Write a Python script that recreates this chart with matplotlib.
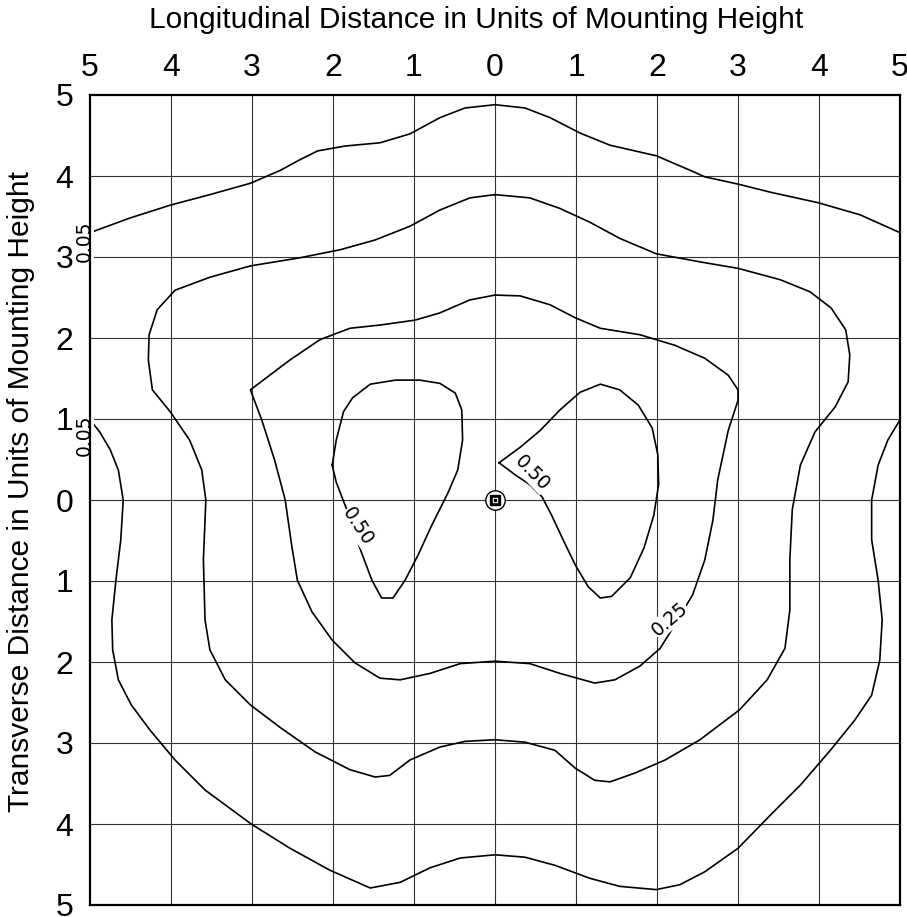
import matplotlib
matplotlib.use("Agg")
import matplotlib.pyplot as plt

plt.rcParams['font.family'] = ['Liberation Sans', 'DejaVu Sans']

# ---- data (units of mounting height) ----
tick_values = [-5, -4, -3, -2, -1, 0, 1, 2, 3, 4, 5]
tick_labels = [str(abs(v)) for v in tick_values]

# 0.05 iso-line, upper open branch
c005_top_x = [-5, -4.51, -4.01, -3.52, -3.02, -2.65, -2.41, -2.19, -1.85, -1.42, -1.05, -0.68, -0.37, 0,
              0.37, 0.68, 1.05, 1.42, 1.99, 2.41, 2.59, 3.00, 3.40, 3.99, 4.51, 5.0]
c005_top_y = [3.30, 3.48, 3.64, 3.77, 3.91, 4.07, 4.20, 4.31, 4.37, 4.41, 4.52, 4.72, 4.84, 4.88,
              4.84, 4.72, 4.53, 4.38, 4.25, 4.07, 3.99, 3.90, 3.80, 3.67, 3.52, 3.30]

# 0.05 iso-line, lower open branch
c005_bot_x = [-5, -4.88, -4.75, -4.65, -4.59, -4.62, -4.68, -4.73, -4.72, -4.65, -4.49, -4.26, -3.95, -3.58,
              -3.01, -2.53, -2.04, -1.54, -1.17, -0.80, -0.43, 0, 0.37, 0.74, 1.17, 1.54, 1.99, 2.28, 2.59,
              3.00, 3.40, 3.77, 4.14, 4.44, 4.65, 4.75, 4.78, 4.73, 4.65, 4.65, 4.73, 4.85, 5.0]
c005_bot_y = [0.99, 0.84, 0.62, 0.37, 0, -0.49, -0.99, -1.48, -1.85, -2.22, -2.53, -2.84, -3.21, -3.58,
              -4.00, -4.30, -4.57, -4.79, -4.72, -4.54, -4.42, -4.38, -4.41, -4.51, -4.67, -4.77, -4.81, -4.75,
              -4.59, -4.30, -3.89, -3.52, -3.09, -2.72, -2.41, -1.98, -1.48, -0.99, -0.49, 0, 0.43, 0.74, 0.99]

# 0.10 iso-line (closed)
c010_x = [0, -0.31, -0.68, -1.05, -1.48, -1.91, -2.41, -3.02, -3.52, -3.95, -4.17, -4.27, -4.28, -4.23,
          -4.01, -3.77, -3.62, -3.57, -3.60, -3.58, -3.52, -3.33, -3.02, -2.65, -2.22, -1.79, -1.48, -1.30,
          -1.05, -0.68, -0.37, 0, 0.37, 0.74, 0.99, 1.23, 1.42, 1.73, 2.10, 2.53, 3.02, 3.36, 3.58, 3.64,
          3.64, 3.67, 3.77, 3.95, 4.20, 4.36, 4.38, 4.33, 4.15, 3.89, 3.52, 3.00, 2.53, 1.99, 1.54, 1.17,
          0.80, 0.43, 0]
c010_y = [3.77, 3.73, 3.58, 3.38, 3.21, 3.09, 2.99, 2.89, 2.75, 2.59, 2.35, 2.04, 1.73, 1.36,
          1.09, 0.74, 0.37, 0, -0.74, -1.48, -1.85, -2.22, -2.53, -2.81, -3.11, -3.33, -3.42, -3.40,
          -3.21, -3.05, -2.98, -2.96, -2.99, -3.09, -3.31, -3.46, -3.48, -3.37, -3.21, -2.96, -2.59, -2.22,
          -1.83, -1.36, -0.74, -0.12, 0.43, 0.84, 1.15, 1.46, 1.79, 2.10, 2.37, 2.57, 2.72, 2.86, 2.94,
          3.04, 3.23, 3.43, 3.60, 3.73, 3.77]

# 0.25 iso-line (closed)
c025_x = [0, -0.31, -0.68, -0.99, -1.42, -1.79, -2.16, -2.53, -3.02, -2.88, -2.72, -2.59, -2.51, -2.44,
          -2.26, -2.01, -1.73, -1.42, -1.17, -0.80, -0.43, 0, 0.43, 0.80, 1.23, 1.48, 1.79, 2.04, 2.22,
          2.44, 2.59, 2.69, 2.75, 2.88, 3.00, 3.00, 2.88, 2.59, 2.22, 1.79, 1.30, 0.99, 0.68, 0.31, 0]
c025_y = [2.53, 2.47, 2.31, 2.22, 2.16, 2.12, 1.98, 1.73, 1.36, 0.99, 0.49, 0, -0.56, -0.99,
          -1.38, -1.73, -2.01, -2.20, -2.22, -2.14, -2.02, -1.99, -2.02, -2.14, -2.26, -2.22, -2.05, -1.83,
          -1.54, -1.17, -0.74, -0.25, 0.25, 0.86, 1.23, 1.36, 1.54, 1.75, 1.91, 2.04, 2.12, 2.25, 2.41,
          2.52, 2.53]

# 0.50 iso-line, left lobe
c050L_x = [-2.01, -1.96, -1.87, -1.76, -1.54, -1.23, -0.93, -0.68, -0.49, -0.41, -0.40, -0.46, -0.58,
           -0.78, -0.95, -1.11, -1.26, -1.40, -1.52, -1.67, -1.83, -1.96, -2.01]
c050L_y = [0.43, 0.74, 1.09, 1.26, 1.43, 1.48, 1.48, 1.44, 1.32, 1.11, 0.74, 0.37, 0.09,
           -0.31, -0.68, -0.99, -1.21, -1.21, -0.99, -0.59, -0.12, 0.22, 0.43]

# 0.50 iso-line, right lobe
c050R_x = [0.05, 0.31, 0.56, 0.80, 1.05, 1.30, 1.54, 1.77, 1.94, 2.01, 2.02, 1.96, 1.84, 1.67, 1.44,
           1.30, 1.15, 0.99, 0.84, 0.70, 0.58, 0.43, 0.25, 0.05]
c050R_y = [0.46, 0.65, 0.86, 1.11, 1.33, 1.43, 1.36, 1.17, 0.89, 0.56, 0.19, -0.19, -0.59, -0.96, -1.19,
           -1.21, -1.07, -0.80, -0.49, -0.19, 0.04, 0.19, 0.31, 0.46]

# contour labels: text, x, y, rotation
label_text = ["0.05", "0.05", "0.50", "0.50", "0.25"]
label_x = [-5.07, -5.07, -1.69, 0.46, 2.16]
label_y = [3.20, 0.80, -0.33, 0.33, -1.47]
label_rot = [90, 90, -57, -46, 41]

# ---- figure ----
W, H = 907, 917
fig = plt.figure(figsize=(W / 100, H / 100), dpi=100)
ax = fig.add_axes([90 / W, 12 / H, 810 / W, 810 / H])
ax.set_xlim(-5, 5)
ax.set_ylim(-5, 5)

for v in tick_values[1:-1]:
    ax.axvline(v, color='#333333', lw=0.8, zorder=1)
    ax.axhline(v, color='#333333', lw=0.8, zorder=1)

lines = [(c005_top_x, c005_top_y), (c005_bot_x, c005_bot_y), (c010_x, c010_y),
         (c025_x, c025_y), (c050L_x, c050L_y), (c050R_x, c050R_y)]
for xs, ys in lines:
    ax.plot(xs, ys, color='black', lw=1.2, zorder=3, solid_joinstyle='round')

for t, x, y, r in zip(label_text, label_x, label_y, label_rot):
    ax.text(x, y, t, rotation=r, rotation_mode='anchor', ha='center', va='center',
            fontsize=13.5, family=['DejaVu Sans'], zorder=5, clip_on=False,
            bbox=dict(fc='white', ec='none', pad=0.3))

# luminaire symbol
ax.plot([0], [0], marker='o', ms=14, mfc='white', mec='black', mew=1.0, zorder=6)
ax.plot([0], [0], marker='s', ms=7, mfc='black', mec='black', zorder=7)
ax.plot([0], [0], marker='s', ms=3.5, mfc='white', mec='white', zorder=8)
ax.plot([0], [0], marker='s', ms=1.5, mfc='black', mec='black', zorder=9)

ax.set_xticks(tick_values)
ax.set_xticklabels(tick_labels)
ax.set_yticks(tick_values)
ax.set_yticklabels(tick_labels)
ax.xaxis.tick_top()
ax.tick_params(axis='x', length=0, pad=9, labelsize=23)
ax.tick_params(axis='y', length=0, pad=12, labelsize=23)
for s in ax.spines.values():
    s.set_linewidth(1.6)
    s.set_zorder(10)

fig.text(476 / W, 1 - 20 / H, "Longitudinal Distance in Units of Mounting Height",
         ha='center', va='center', fontsize=21.5)
fig.text(21 / W, 1 - 492 / H, "Transverse Distance in Units of Mounting Height",
         ha='center', va='center', rotation=90, fontsize=21.5)

fig.savefig("out.png", dpi=100)
